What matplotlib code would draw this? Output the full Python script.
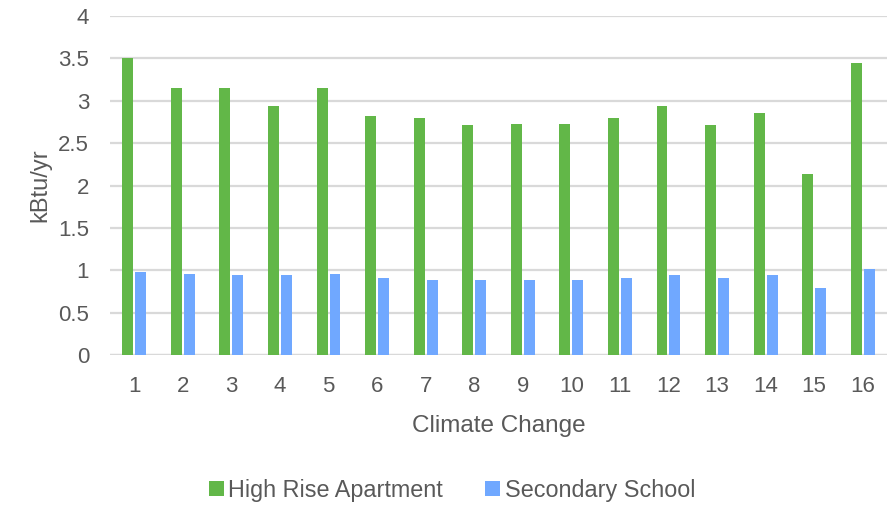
import matplotlib
matplotlib.use("Agg")
import matplotlib.pyplot as plt
import numpy as np

# Annual energy intensity by climate zone
categories = [str(i) for i in range(1, 17)]
high_rise = [3.51, 3.15, 3.15, 2.94, 3.15, 2.82, 2.80, 2.71,
             2.73, 2.73, 2.80, 2.94, 2.71, 2.85, 2.14, 3.44]
secondary = [0.98, 0.96, 0.94, 0.94, 0.96, 0.91, 0.89, 0.89,
             0.89, 0.89, 0.91, 0.94, 0.91, 0.94, 0.79, 1.01]
y_ticks = [0, 0.5, 1, 1.5, 2, 2.5, 3, 3.5, 4]
y_tick_labels = ["0", "0.5", "1", "1.5", "2", "2.5", "3", "3.5", "4"]

GREEN = "#62B748"
BLUE = "#70A8FF"
TEXT = "#595959"
GRID = "#D9D9D9"

plt.rcParams["font.family"] = ["Liberation Sans", "DejaVu Sans"]

fig = plt.figure(figsize=(8.88, 5.05), dpi=100)
ax = fig.add_axes([110 / 888, 150 / 505, 777 / 888, 339 / 505])

x = np.arange(len(categories))
width = 0.226
gap = 0.04
ax.bar(x - (width + gap) / 2, high_rise, width, color=GREEN,
       label="High Rise Apartment", zorder=3)
ax.bar(x + (width + gap) / 2, secondary, width, color=BLUE,
       label="Secondary School", zorder=3)

ax.set_xlim(-0.5, len(categories) - 0.5)
ax.set_ylim(0, 4)
ax.set_yticks(y_ticks)
ax.set_yticklabels(y_tick_labels)
ax.set_xticks(x)
ax.set_xticklabels(categories)

ax.yaxis.grid(True, color=GRID, linewidth=1.6, zorder=0)
ax.set_axisbelow(True)
for s in ax.spines.values():
    s.set_visible(False)
ax.axhline(0, color=GRID, linewidth=1.6, zorder=1)

ax.tick_params(axis="both", length=0, labelsize=16, colors=TEXT)
ax.tick_params(axis="y", pad=15)
ax.tick_params(axis="x", pad=15)

ax.set_xlabel("Climate Change", fontsize=17.5, color=TEXT, labelpad=13)
ax.set_ylabel("kBtu/yr", fontsize=17, color=TEXT, labelpad=5)

leg = fig.legend(loc="center", bbox_to_anchor=(452 / 888, 1 - 490 / 505),
                 ncol=2, frameon=False, fontsize=16.8,
                 handlelength=0.65, handleheight=0.65, handletextpad=0.2,
                 columnspacing=1.8)
for t in leg.get_texts():
    t.set_color(TEXT)

fig.savefig("out.png", dpi=100)
